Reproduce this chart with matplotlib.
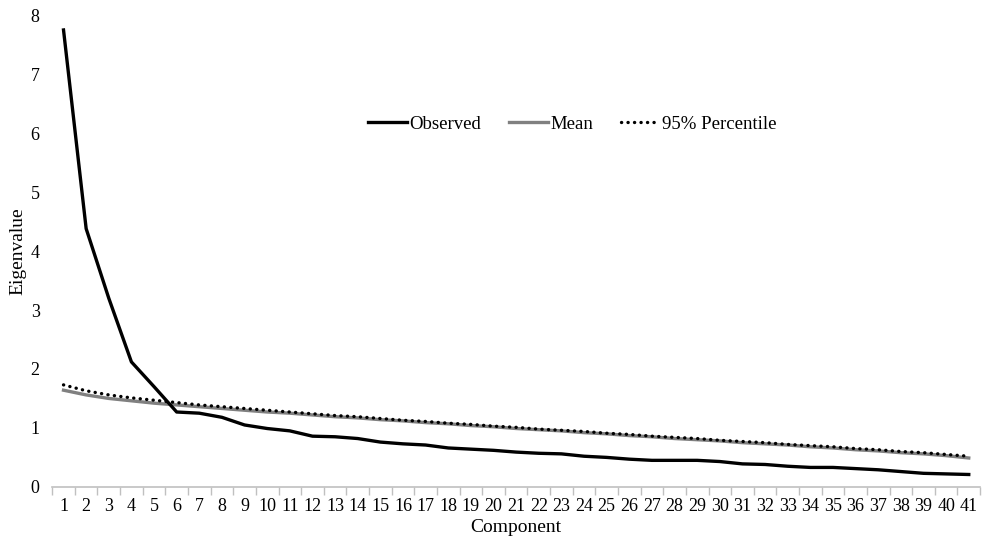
import matplotlib
matplotlib.use("Agg")
from matplotlib import pyplot as plt
import numpy as np

components = list(range(1, 42))
observed = [7.75, 4.38, 3.20, 2.12, 1.70, 1.27, 1.25, 1.18, 1.05, 0.99,
            0.95, 0.86, 0.85, 0.82, 0.76, 0.73, 0.71, 0.66, 0.64, 0.62,
            0.59, 0.57, 0.56, 0.52, 0.50, 0.47, 0.45, 0.45, 0.45, 0.43,
            0.39, 0.38, 0.35, 0.33, 0.33, 0.31, 0.29, 0.26, 0.23, 0.22, 0.21]
mean = [1.64, 1.56, 1.50, 1.46, 1.42, 1.39, 1.36, 1.33, 1.30, 1.27,
        1.25, 1.22, 1.19, 1.17, 1.14, 1.12, 1.09, 1.07, 1.04, 1.02,
        0.99, 0.97, 0.95, 0.92, 0.90, 0.87, 0.85, 0.82, 0.80, 0.78,
        0.75, 0.73, 0.71, 0.68, 0.66, 0.63, 0.61, 0.58, 0.56, 0.53, 0.49]
percentile95 = [1.73, 1.63, 1.56, 1.51, 1.47, 1.43, 1.39, 1.36, 1.33, 1.30,
                1.27, 1.24, 1.21, 1.19, 1.16, 1.13, 1.11, 1.08, 1.06, 1.03,
                1.01, 0.98, 0.96, 0.94, 0.91, 0.89, 0.86, 0.84, 0.82, 0.79,
                0.77, 0.75, 0.72, 0.70, 0.68, 0.65, 0.63, 0.60, 0.58, 0.55, 0.52]

plt.rcParams['font.family'] = ['Liberation Serif', 'DejaVu Serif']

fig = plt.figure(figsize=(9.85, 5.44), dpi=100)
ax = fig.add_axes([0.053, 0.105, 0.942, 0.867])

ax.plot(components, observed, color='black', lw=2.4, label='Observed', zorder=3)
ax.plot(components, mean, color='#808080', lw=2.4, label='Mean', zorder=2)
ax.plot(components, percentile95, color='black', lw=2.4, linestyle=(0, (0.05, 1.9)),
        dash_capstyle='round', label='95% Percentile', zorder=2)

ax.set_xlim(0.5, 41.5)
ax.set_ylim(0, 8)
ax.set_xticks(components)
ax.set_xticklabels([str(c) for c in components], fontsize=13)
ax.set_xticks(np.arange(0.5, 42, 1), minor=True)
ax.tick_params(axis='x', which='major', length=0, pad=8)
ax.tick_params(axis='x', which='minor', length=6, color='#c0c0c0', width=1)
ax.set_yticks(range(0, 9))
ax.tick_params(axis='y', length=0, labelsize=13, pad=9)

for side in ['top', 'right', 'left']:
    ax.spines[side].set_visible(False)
ax.spines['bottom'].set_color('#c0c0c0')
ax.spines['bottom'].set_linewidth(1.2)

ax.set_xlabel('Component', fontsize=14, labelpad=3)
ax.set_ylabel('Eigenvalue', fontsize=14)
ax.yaxis.set_label_coords(-0.028, 0.5)

fig.legend(loc='center', bbox_to_anchor=(0.581, 0.772), ncol=3, frameon=False,
           fontsize=13.5, handlelength=2.1, handletextpad=0.1, columnspacing=1.5)

fig.savefig('out.png', dpi=100)
